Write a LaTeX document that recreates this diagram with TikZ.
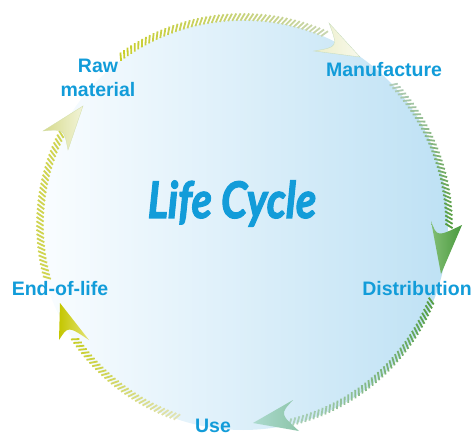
\documentclass[tikz,border=0pt]{standalone}
\usepackage{fontspec}
\setmainfont{Liberation Sans}
\newfontfamily\titlefont[FakeBold=2.5]{Lato}
\usetikzlibrary{decorations.markings,calc}

\definecolor{lcblue}{RGB}{18,156,217}
\definecolor{discL}{RGB}{250,253,255}
\definecolor{discR}{RGB}{190,225,244}
% stripe colours along the arcs
\definecolor{yelA}{RGB}{200,206,40}
\definecolor{yelB}{RGB}{208,212,80}
\definecolor{yelPale}{RGB}{226,228,184}
\definecolor{greyGreen}{RGB}{180,206,186}
\definecolor{grnA}{RGB}{84,156,64}
\definecolor{grnPale}{RGB}{170,208,186}
\definecolor{topEnd}{RGB}{200,214,176}
% arrow head colours
\definecolor{h1L}{RGB}{236,238,200}
\definecolor{h1R}{RGB}{248,249,236}
\definecolor{h1E}{RGB}{196,218,186}
\definecolor{h2L}{RGB}{130,190,116}
\definecolor{h2R}{RGB}{74,154,62}
\definecolor{h3L}{RGB}{172,218,206}
\definecolor{h3R}{RGB}{140,196,168}
\definecolor{h4L}{RGB}{196,198,0}
\definecolor{h4R}{RGB}{228,228,120}
\definecolor{h5L}{RGB}{214,218,140}
\definecolor{h5R}{RGB}{242,244,216}
\definecolor{h5E}{RGB}{210,222,170}

\tikzset{
  % slanted hatch marks laid along an invisible arc, colour blended from #1 to #2
  hatcharc/.style 2 args={
    postaction={decorate, decoration={markings,
      mark=between positions 0 and 1 step 4.2pt with {
        \pgfmathsetmacro\hfrac{max(0,min(100,(\pgfkeysvalueof{/pgf/decoration/mark info/sequence number}*4.2/\pgfdecoratedpathlength)*100))}
        \colorlet{hatchcol}{#2!\hfrac!#1}
        \draw[hatchcol, line width=1.8pt] (-2.2pt,-3.6pt) -- (2.2pt,3.6pt);
      }}}},
  steplabel/.style={text=lcblue, font=\fontsize{19.5}{24}\selectfont\bfseries,
    inner sep=0pt, align=center},
  headtip/.style={draw=#1, line width=0.3pt}
}

\begin{document}
\begin{tikzpicture}[x=1pt,y=-1pt]
\useasboundingbox (0,0) rectangle (473,435);

% the shaded disc
\coordinate (c) at (243,225);
\shade[left color=discL, right color=discR] (c) circle[radius=205];

% title
\node[text=lcblue, inner sep=0pt, anchor=base] (title) at (232,218)
  {\scalebox{1}[1.2]{\titlefont\bfseries\itshape\fontsize{42}{44}\selectfont Life Cycle}};

% stage labels
\node[steplabel, anchor=center] (raw) at (98,78) {Raw\\material};
\node[steplabel, anchor=base] (man) at (384,77) {Manufacture};
\node[steplabel, anchor=base] (dist) at (417,295) {Distribution};
\node[steplabel, anchor=base] (use) at (213,432) {Use};
\node[steplabel, anchor=base] (eol) at (60,295) {End-of-life};

% hatched arcs between the stages
\coordinate (a1) at ($(c)+(234:208)$);
\path[hatcharc={yelA}{topEnd}] (a1) arc[start angle=234, end angle=294, radius=208];
\coordinate (a2) at ($(c)+(317:206)$);
\path[hatcharc={greyGreen}{grnA}] (a2) arc[start angle=317, end angle=361, radius=206];
\coordinate (a3) at ($(c)+(22:203)$);
\path[hatcharc={grnA}{grnPale}] (a3) arc[start angle=22, end angle=77, radius=203];
\coordinate (a4) at ($(c)+(109:203)$);
\path[hatcharc={yelPale}{yelA}] (a4) arc[start angle=109, end angle=146, radius=203];
\coordinate (a5) at ($(c)+(165:203)$);
\path[hatcharc={yelB}{yelB}] (a5) arc[start angle=165, end angle=207, radius=203];

% arrow heads
\coordinate (h1t) at (360,57);  \coordinate (h1a) at (329,23);  \coordinate (h1b) at (314,51);  \coordinate (h1c) at (338,47);
\coordinate (h2t) at (441,274); \coordinate (h2a) at (431,221); \coordinate (h2b) at (462,225); \coordinate (h2c) at (437,237);
\coordinate (h3t) at (253,423); \coordinate (h3a) at (293,400); \coordinate (h3b) at (299,431); \coordinate (h3c) at (280,414);
\coordinate (h4t) at (60,303);  \coordinate (h4a) at (59,340);  \coordinate (h4b) at (89,340);  \coordinate (h4c) at (68,326);
\coordinate (h5t) at (83,106);  \coordinate (h5a) at (43,131);  \coordinate (h5b) at (68,150);  \coordinate (h5c) at (64,129);

\shade[left color=h1L, right color=h1R, headtip=h1E]
  (h1t) -- (h1a) .. controls (h1c) .. (h1b) -- cycle;
\shade[left color=h2L, right color=h2R]
  (h2t) -- (h2a) .. controls (h2c) .. (h2b) -- cycle;
\shade[left color=h3L, right color=h3R]
  (h3t) -- (h3a) .. controls (h3c) .. (h3b) -- cycle;
\shade[left color=h4L, right color=h4R]
  (h4t) -- (h4a) .. controls (h4c) .. (h4b) -- cycle;
\shade[left color=h5L, right color=h5R, headtip=h5E]
  (h5t) -- (h5a) .. controls (h5c) .. (h5b) -- cycle;
\end{tikzpicture}
\end{document}
